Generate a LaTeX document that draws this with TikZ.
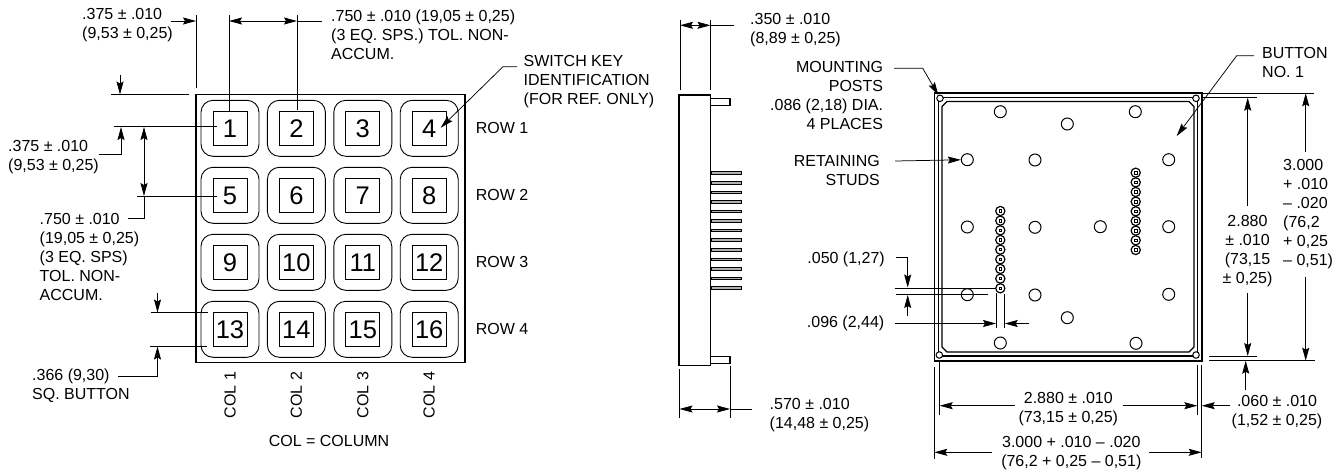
\documentclass[tikz,border=0pt]{standalone}
\usepackage{fontspec}
\setmainfont{Liberation Sans}
\usetikzlibrary{arrows.meta}
\tikzset{
	lbl/.style={inner sep=0pt,font=\fontsize{16}{19}\selectfont,align=left,anchor=west},
	lblr/.style={lbl,align=right,anchor=east},
	lblc/.style={lbl,align=center,anchor=center},
	keycap/.style={draw,line width=0.9pt,rounded corners=12pt,minimum width=58pt,minimum height=56pt,inner sep=0pt},
	keyface/.style={draw,line width=0.9pt,minimum size=34pt,inner sep=0pt,font=\fontsize{25.5}{26}\selectfont},
	thinline/.style={line width=0.75pt},
	dimarrow/.style={thinline,-{Stealth[length=13pt,width=7pt,inset=2pt]}},
	dimboth/.style={thinline,{Stealth[length=13pt,width=7pt,inset=2pt]}-{Stealth[length=13pt,width=7pt,inset=2pt]}},
	body/.style={line width=1.2pt},
	stud/.style={draw,circle,line width=1pt,fill=white,minimum size=12pt,inner sep=0pt},
	post/.style={draw,circle,line width=1pt,fill=white,minimum size=6.5pt,inner sep=0pt},
	pad/.style={draw,circle,line width=1.2pt,fill=white,minimum size=9.2pt,inner sep=0pt},
	padhole/.style={draw,line width=0.7pt,minimum size=2.4pt,inner sep=0pt}
}
\begin{document}
\begin{tikzpicture}[x=1pt,y=-1pt]
	\useasboundingbox (0,0) rectangle (1340,474);
	% keypad front view
	\draw[body](196,94.7) rectangle (465,362.7);
	\foreach \r in {0,...,3}{
		\foreach \c in {0,...,3}{
			\pgfmathtruncatemacro{\keyno}{4*\r+\c+1}
			\node[keycap] (cap\keyno) at ({230+66.4*\c},{128.3+67*\r}) {};
			\node[keyface] (key\keyno) at ({230+66.4*\c},{128.5+67*\r}) {\keyno};
		}
	}
	\foreach \r in {1,...,4}{
		\node[lbl] (row\r) at (475.7,{128+67*(\r-1)}) {ROW \r};
	}
	\foreach \c in {1,...,4}{
		\node[lbl,anchor=center,rotate=90] (col\c) at ({230+66.4*(\c-1)},395) {COL \c};
	}
	\node[lblc] (colnote) at (329,441) {COL = COLUMN};
	% dimensions, top of keypad
	\draw[thinline](196,15)--(196,88);
	\draw[thinline](229,15)--(229,112);
	\draw[thinline](297,15)--(297,110);
	\draw[dimarrow](171,21)--(196,21);
	\draw[dimboth](229,21)--(297,21);
	\draw[thinline](297,21)--(322,21);
	\node[lbl] (dimedgex) at (82,25.5) {.375 ± .010\\(9,53 ± 0,25)};
	\node[lbl] (dimpitchx) at (331,35) {.750 ± .010 (19,05 ± 0,25)\\(3 EQ. SPS.) TOL. NON-\\ACCUM.};
	% dimensions, left of keypad
	\draw[thinline](111,94.7)--(189,94.7);
	\draw[thinline](114,126.7)--(217,126.7);
	\draw[thinline](137,196)--(217,196);
	\draw[dimarrow](120,75)--(120,94.5);
	\draw[dimarrow](99,154.5)--(121,154.5)--(121,127);
	\draw[dimboth](144,127)--(144,196);
	\draw[thinline](144,196)--(144,218.5)--(128,218.5);
	\node[lbl] (dimedgey) at (8,157.5) {.375 ± .010\\(9,53 ± 0,25)};
	\node[lbl] (dimpitchy) at (39.5,257) {.750 ± .010\\(19,05 ± 0,25)\\(3 EQ. SPS)\\TOL. NON-\\ACCUM.};
	\draw[thinline](151,312.7)--(208,312.7);
	\draw[thinline](150,346)--(207,346);
	\draw[dimarrow](157.5,293)--(157.5,312.5);
	\draw[dimarrow](118,376.5)--(157.5,376.5)--(157.5,346.5);
	\node[lbl] (dimbutton) at (32,385.5) {.366 (9,30)\\SQ. BUTTON};
	% switch key callout
	\draw[dimarrow](517,66.7)--(503,66.7)--(440.7,127.7);
	\node[lbl] (switchkey) at (523.5,82) {SWITCH KEY\\IDENTIFICATION\\(FOR REF. ONLY)};
	% side view
	\draw[body](679,95) rectangle (710.3,365.3);
	\draw[body](710.3,98.7) rectangle (730,105.3);
	\draw[body](710.3,356.7) rectangle (730,363.3);
	\foreach \k in {0,...,12}{
		\draw[line width=0.8pt,fill=gray!60]({711},{171.8+9.58*\k}) rectangle (741,{174.4+9.58*\k});
	}
	\draw[thinline](680,20)--(680,90);
	\draw[thinline](710.5,20)--(710.5,90);
	\draw[dimboth](680,25.3)--(710.5,25.3);
	\draw[thinline](710.5,25.3)--(734,25.3);
	\node[lbl] (dimdepth) at (750,30.5) {.350 ± .010\\(8,89 ± 0,25)};
	\draw[thinline](679.5,369)--(679.5,418);
	\draw[thinline](730,365.7)--(730,418);
	\draw[dimboth](679.5,409)--(730,409);
	\draw[thinline](730,409)--(752,409);
	\node[lbl] (dimtotal) at (769.5,415) {.570 ± .010\\(14,48 ± 0,25)};
	% back view
	\draw[line width=1.6pt](934.3,92.7) rectangle (1201.7,360.7);
	\draw[line width=1.1pt](938.7,97.3) rectangle (1197.3,356);
	\draw[line width=1.3pt](947,101.5)--(1189,101.5)--(1194,106.5)--(1194,347)--(1189,352)--(947,352)--(942,347)--(942,106.5)--cycle;
	\node[post] (postnw) at (940,98.3) {};
	\node[post] (postne) at (1196,98.3) {};
	\node[post] (postsw) at (939.3,355) {};
	\node[post] (postse) at (1196,355) {};
	\foreach \n/\px/\py in {1/1000.3/111.7,2/1135.3/111.7,3/1067.3/124,4/967.3/159.7,5/1035/160,6/1168.7/159.7,7/967.3/227,8/1035/227.3,9/1100.3/226.7,10/1168.7/226.7,11/967.3/294.7,12/1035/295,13/1168.7/294.3,14/1067.3/317.7,15/1000.3/343,16/1136/343.3}{
		\node[stud] (stud\n) at (\px,\py) {};
	}
	\foreach \k in {0,...,8}{
		\node[pad] (padl\k) at (1000.3,{211+9.66*\k}) {};
		\node[padhole] (holel\k) at (padl\k) {};
		\node[pad] (padr\k) at (1135.7,{172.7+9.66*\k}) {};
		\node[padhole] (holer\k) at (padr\k) {};
	}
	% callouts of back view
	\draw[dimarrow](894,68.3)--(922.7,68.3)--(938.3,95);
	\node[lblr] (mounting) at (883.3,95.5) {MOUNTING\\POSTS\\.086 (2,18) DIA.\\4 PLACES};
	\draw[dimarrow](895,161)--(stud4);
	\node[lblr] (retaining) at (880,170) {RETAINING\\STUDS};
	\draw[dimarrow](1254,55.7)--(1236.7,55.7)--(1176.7,136);
	\node[lbl] (buttonone) at (1262,62) {BUTTON\\NO. 1};
	% pad dimensions
	\draw[thinline](894.7,288)--(996,288);
	\draw[thinline](896,294.3)--(988,294.3);
	\draw[dimarrow](896,257.3)--(907.7,257.3)--(907.7,287.5);
	\draw[dimarrow](907.7,315.7)--(907.7,295);
	\node[lblr] (dimpadgap) at (885,259) {.050 (1,27)};
	\draw[thinline](996,293)--(996,328);
	\draw[thinline](1004.7,294)--(1004.7,328);
	\draw[dimarrow](895,323.5)--(996,323.5);
	\draw[dimarrow](1029.3,323.5)--(1004.7,323.5);
	\node[lblr] (dimpadpitch) at (884.5,323.3) {.096 (2,44)};
	% dimensions below back view
	\draw[thinline](934.3,366.7)--(934.3,459.3);
	\draw[thinline](939.7,360)--(939.7,415);
	\draw[thinline](1197.3,365)--(1197.3,415);
	\draw[thinline](1201.7,365)--(1201.7,458.3);
	\draw[dimarrow](1015,405.7)--(939.7,405.7);
	\draw[dimarrow](1123.3,405.7)--(1197.3,405.7);
	\node[lblc,fill=white,inner sep=0pt] (dimpostx) at (1068.3,409) {2.880 ± .010\\(73,15 ± 0,25)};
	\draw[dimarrow](991.7,452.3)--(934.3,452.3);
	\draw[dimarrow](1149.3,452.3)--(1201.7,452.3);
	\node[lblc] (dimframex) at (1071.3,453.5) {3.000 + .010 – .020\\(76,2 + 0,25 – 0,51)};
	\draw[dimarrow](1230,405.7)--(1201.7,405.7);
	\node[lblc] (diminset) at (1277,412.5) {.060 ± .010\\(1,52 ± 0,25)};
	% dimensions right of back view
	\draw[thinline](1203,93.3)--(1314.3,93.3);
	\draw[thinline](1202,97.7)--(1257.3,97.7);
	\draw[thinline](1209.3,356)--(1257.3,356);
	\draw[thinline](1209.3,360.7)--(1315,360.7);
	\draw[dimarrow](1247.7,206)--(1247.7,97.7);
	\draw[dimarrow](1247.7,293.3)--(1247.7,356);
	\node[lblc] (dimposty) at (1247.5,251.5) {2.880\\± .010\\(73,15\\± 0,25)};
	\draw[dimarrow](1305.7,151.7)--(1305.7,93.3);
	\draw[dimarrow](1305.7,276.7)--(1305.7,360.7);
	\node[lbl] (dimframey) at (1283,214) {3.000\\+ .010\\– .020\\(76,2\\+ 0,25\\– 0,51)};
	\draw[dimarrow](1245.7,390)--(1245.7,360.7);
\end{tikzpicture}
\end{document}
